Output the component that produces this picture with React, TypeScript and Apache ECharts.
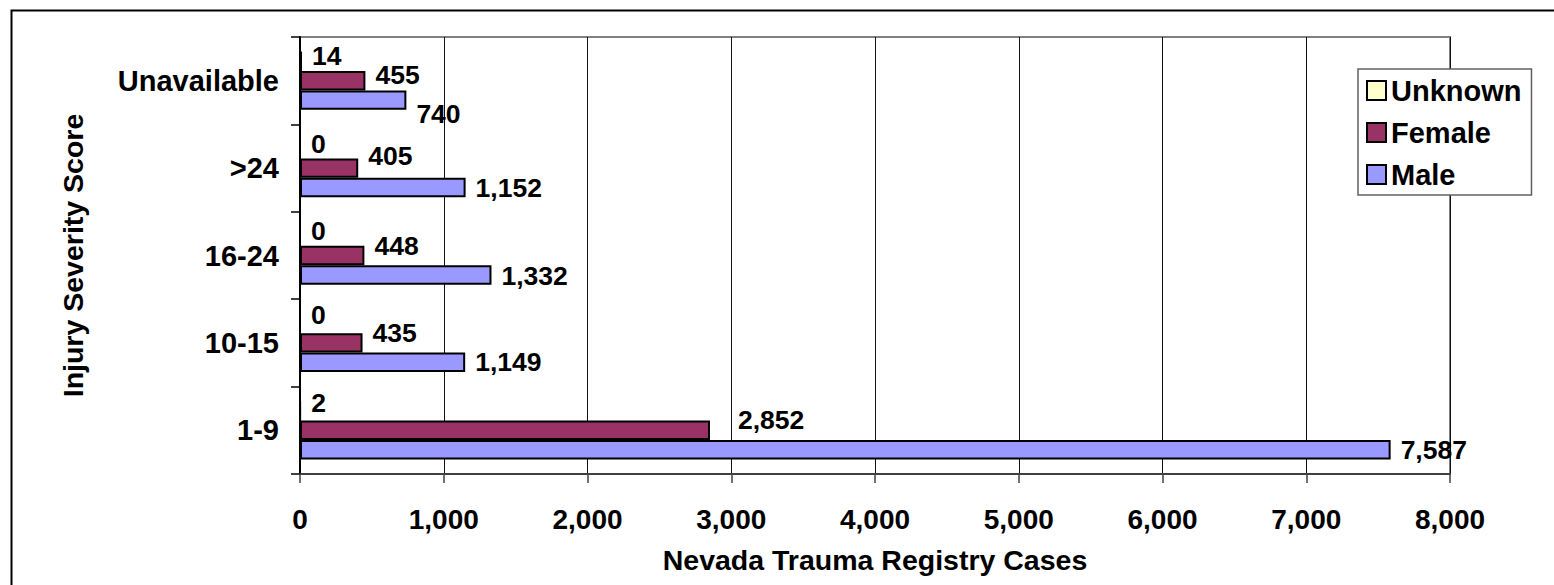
import React, { useEffect, useRef } from "react";
import * as echarts from "echarts";

const categories = ["1-9", "10-15", "16-24", ">24", "Unavailable"];
const seriesNames = ["Unknown", "Female", "Male"];
const unknownValues = [2, 0, 0, 0, 14];
const femaleValues = [2852, 435, 448, 405, 455];
const maleValues = [7587, 1149, 1332, 1152, 740];
const xTicks = [0, 1000, 2000, 3000, 4000, 5000, 6000, 7000, 8000];

// label nudges (pixels) per category, [dx, dy]
const unknownNudge = [[0, -8], [0, -8.5], [0, -5.5], [0, -4.5], [0, -5]];
const femaleNudge = [[18, -10], [0, -10], [0, -9.5], [0, -12], [0, -6]];
const maleNudge = [[0, 0], [0, 0], [0, 1.5], [0, 0], [0, 14]];

const FONT = "'Liberation Sans', Arial, sans-serif";

const fmt = (v: number) => v.toLocaleString("en-US");

export default function App() {
  const ref = useRef<HTMLDivElement>(null);
  useEffect(() => {
    document.body.style.margin = "0";
    const chart = echarts.init(ref.current!, null, { renderer: "svg" });
    const mk = (name: string, values: number[], nudge: number[][], color: string) => ({
      name,
      type: "bar",
      barGap: "0%",
      barCategoryGap: "33.3%",
      itemStyle: { color, borderColor: "#000", borderWidth: 2 },
      label: {
        show: true,
        position: "right",
        distance: 10,
        formatter: (p: any) => fmt(p.value),
        fontFamily: FONT,
        fontWeight: "bold",
        fontSize: 26.5,
        color: "#000",
      },
      data: values.map((v, i) => ({ value: v, label: { offset: nudge[i] } })),
    });
    chart.setOption({
      animation: false,
      backgroundColor: "#fff",
      textStyle: { fontFamily: FONT },
      grid: {
        left: 300,
        top: 37,
        right: 104,
        bottom: 111,
        show: true,
        borderColor: "#808080",
        borderWidth: 2,
        backgroundColor: "transparent",
      },
      legend: {
        data: seriesNames,
        orient: "vertical",
        left: 1358,
        top: 69,
        padding: [7, 10, 6, 8],
        itemGap: 13,
        icon: "rect",
        itemWidth: 19,
        itemHeight: 19,
        itemStyle: { borderColor: "#000", borderWidth: 2 },
        borderColor: "#606060",
        borderWidth: 1.5,
        backgroundColor: "#fff",
        textStyle: { fontFamily: FONT, fontWeight: "bold", fontSize: 29, color: "#000", padding: [0, 0, 0, 0] },
      },
      xAxis: {
        type: "value",
        min: xTicks[0],
        max: xTicks[xTicks.length - 1],
        interval: xTicks[1] - xTicks[0],
        name: "Nevada Trauma Registry Cases",
        nameLocation: "middle",
        nameGap: 71,
        nameTextStyle: { fontFamily: FONT, fontWeight: "bold", fontSize: 28.5, color: "#000" },
        axisLine: { show: true, lineStyle: { color: "#404040", width: 2 } },
        axisTick: { show: true, length: 9, lineStyle: { color: "#404040", width: 1.5 } },
        axisLabel: {
          margin: 31,
          fontFamily: FONT,
          fontWeight: "bold",
          fontSize: 28,
          color: "#000",
          formatter: (v: number) => fmt(v),
        },
        splitLine: { show: true, lineStyle: { color: "#111", width: 1 } },
      },
      yAxis: {
        type: "category",
        data: categories,
        name: "Injury Severity Score",
        nameLocation: "middle",
        nameGap: 213,
        nameTextStyle: { fontFamily: FONT, fontWeight: "bold", fontSize: 28.5, color: "#000" },
        axisLine: { show: true, lineStyle: { color: "#000", width: 2 } },
        axisTick: { show: true, length: 9, lineStyle: { color: "#000", width: 1.5 } },
        axisLabel: { margin: 21, fontFamily: FONT, fontWeight: "bold", fontSize: 29, color: "#000" },
        splitLine: { show: false },
      },
      graphic: [
        {
          type: "rect",
          left: 9,
          top: 8,
          shape: { x: 0, y: 0, width: 1560, height: 600 },
          style: { fill: "none", stroke: "#000", lineWidth: 2 },
          silent: true,
          z: -1,
        },
      ],
      series: [
        mk("Unknown", unknownValues, unknownNudge, "#FFFFCC"),
        mk("Female", femaleValues, femaleNudge, "#993366"),
        mk("Male", maleValues, maleNudge, "#9999FF"),
      ],
    });
    return () => chart.dispose();
  }, []);
  return <div ref={ref} style={{ width: 1554, height: 585 }} />;
}
